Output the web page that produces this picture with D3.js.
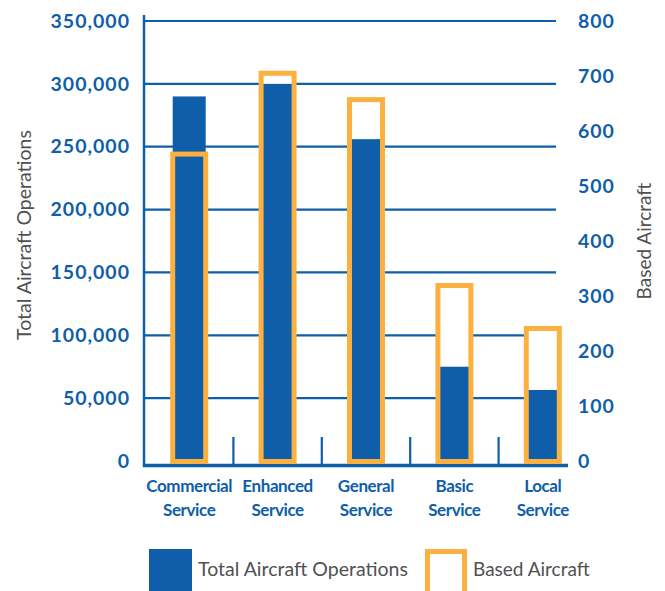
<!DOCTYPE html>
<html>
<head>
<meta charset="utf-8">
<script src="https://cdn.jsdelivr.net/npm/d3@7"></script>
<style>
  html, body { margin: 0; padding: 0; background: #fff; }
  svg { display: block; }
  text { font-family: Lato, "Open Sans", sans-serif; }
</style>
</head>
<body>
<svg id="chart" width="665" height="591"></svg>
<script>
// Airport service levels
const categories = ["Commercial Service", "Enhanced Service", "General Service", "Basic Service", "Local Service"];
// Total aircraft operations (left axis)
const operations = [290000, 300000, 256000, 75000, 56500];
// Based aircraft (right axis)
const basedAircraft = [558, 705, 657, 319, 241];
// Axis tick values
const operationsTicks = [0, 50000, 100000, 150000, 200000, 250000, 300000, 350000];
const aircraftTicks = [0, 100, 200, 300, 400, 500, 600, 700, 800];

const BLUE = "#0e5ea9";
const ORANGE = "#fbb040";
const GREY = "#505153";

const svg = d3.select("#chart");

const yOps = d3.scaleLinear().domain([0, 350000]).range([461, 21]);
const yAir = d3.scaleLinear().domain([0, 800]).range([461, 21]);
const x = d3.scaleBand().domain(categories).range([145, 587]);
const barW = 33;
const cx = c => x(c) + x.bandwidth() / 2;

const left = 144, gridRight = 556, axisRight = 568;

// horizontal gridlines
svg.append("g").selectAll("line")
  .data(operationsTicks.filter(d => d > 0))
  .join("line")
  .attr("x1", left).attr("x2", gridRight)
  .attr("y1", d => yOps(d)).attr("y2", d => yOps(d))
  .attr("stroke", BLUE).attr("stroke-width", 2.2);

// category separators
svg.append("g").selectAll("line")
  .data(categories.slice(1))
  .join("line")
  .attr("x1", d => x(d)).attr("x2", d => x(d))
  .attr("y1", 437).attr("y2", 466)
  .attr("stroke", BLUE).attr("stroke-width", 2.2);

// left axis line and baseline
svg.append("line")
  .attr("x1", left).attr("x2", left).attr("y1", 15).attr("y2", 467)
  .attr("stroke", BLUE).attr("stroke-width", 2.5);
svg.append("line")
  .attr("x1", left - 1).attr("x2", axisRight)
  .attr("y1", yOps(0) + 4.5).attr("y2", yOps(0) + 4.5)
  .attr("stroke", BLUE).attr("stroke-width", 3.5);

// based aircraft: white-filled frames behind the operations bars
svg.append("g").selectAll("rect")
  .data(categories)
  .join("rect")
  .attr("x", d => cx(d) - barW / 2)
  .attr("width", barW)
  .attr("y", (d, i) => yAir(basedAircraft[i]))
  .attr("height", (d, i) => yAir(0) - yAir(basedAircraft[i]) + 0.5)
  .attr("fill", "#fff");

// total aircraft operations bars
svg.append("g").selectAll("rect")
  .data(categories)
  .join("rect")
  .attr("x", d => cx(d) - barW / 2)
  .attr("width", barW)
  .attr("y", (d, i) => yOps(operations[i]))
  .attr("height", (d, i) => yOps(0) - yOps(operations[i]) - 0.5)
  .attr("fill", BLUE);

// based aircraft outlines on top
svg.append("g").selectAll("rect")
  .data(categories)
  .join("rect")
  .attr("x", d => cx(d) - barW / 2)
  .attr("width", barW)
  .attr("y", (d, i) => yAir(basedAircraft[i]))
  .attr("height", (d, i) => yAir(0) - yAir(basedAircraft[i]) + 0.5)
  .attr("fill", "none")
  .attr("stroke", ORANGE).attr("stroke-width", 5);

// left tick labels
const leftAxis = svg.append("g")
  .attr("transform", `translate(${left},0)`)
  .call(d3.axisLeft(yOps).tickValues(operationsTicks)
    .tickFormat(d3.format(",")).tickSize(0).tickPadding(14));
leftAxis.select(".domain").remove();
leftAxis.selectAll("text")
  .attr("fill", BLUE).attr("font-size", 19.5).attr("font-weight", 700)
  .attr("letter-spacing", 1)
  .style("font-family", "Lato, sans-serif");

// right tick labels
const rightAxis = svg.append("g")
  .attr("transform", `translate(${axisRight},0)`)
  .call(d3.axisRight(yAir).tickValues(aircraftTicks).tickSize(0).tickPadding(10));
rightAxis.select(".domain").remove();
rightAxis.selectAll("text")
  .attr("fill", BLUE).attr("font-size", 19.5).attr("font-weight", 700)
  .attr("letter-spacing", 1)
  .style("font-family", "Lato, sans-serif");

// category labels (two lines)
const catLabels = svg.append("g").selectAll("text")
  .data(categories)
  .join("text")
  .attr("x", d => cx(d))
  .attr("text-anchor", "middle")
  .attr("fill", BLUE).attr("font-size", 17).attr("font-weight", 700)
  .attr("letter-spacing", -0.4);
catLabels.selectAll("tspan")
  .data(d => d.split(" ").map(w => ({ w, c: d })))
  .join("tspan")
  .attr("x", d => cx(d.c))
  .attr("y", (d, i) => 492 + i * 24)
  .text(d => d.w);

// axis titles
svg.append("text")
  .attr("transform", "translate(31,235) rotate(-90)")
  .attr("text-anchor", "middle")
  .attr("fill", GREY).attr("font-size", 19.5).attr("font-weight", 400)
  .text("Total Aircraft Operations");
svg.append("text")
  .attr("transform", "translate(651,241) rotate(-90)")
  .attr("text-anchor", "middle")
  .attr("fill", GREY).attr("font-size", 19).attr("font-weight", 400)
  .text("Based Aircraft");

// legend
const legend = svg.append("g");
legend.append("rect")
  .attr("x", 149).attr("y", 549).attr("width", 43).attr("height", 45)
  .attr("fill", BLUE);
legend.append("text")
  .attr("x", 198).attr("y", 569).attr("dy", "0.35em")
  .attr("fill", GREY).attr("font-size", 19.5).attr("font-weight", 400)
  .text("Total Aircraft Operations");
legend.append("rect")
  .attr("x", 427.5).attr("y", 551.5).attr("width", 37).attr("height", 45)
  .attr("fill", "#fff").attr("stroke", ORANGE).attr("stroke-width", 5);
legend.append("text")
  .attr("x", 473).attr("y", 569).attr("dy", "0.35em")
  .attr("fill", GREY).attr("font-size", 19).attr("font-weight", 400)
  .text("Based Aircraft");
</script>
</body>
</html>
